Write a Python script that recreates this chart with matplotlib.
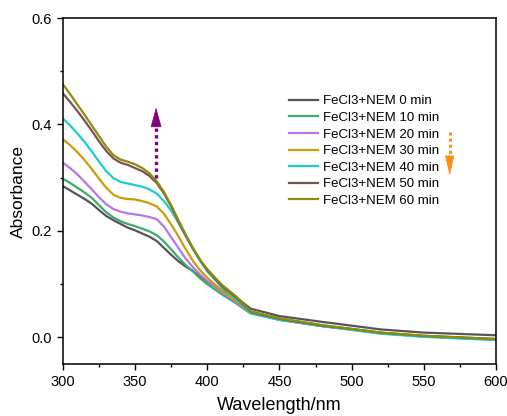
import matplotlib
matplotlib.use("Agg")
import matplotlib.pyplot as plt
from matplotlib.ticker import MultipleLocator

plt.rcParams['font.family'] = ['Liberation Sans', 'DejaVu Sans']

wavelength = [300, 305, 310, 315, 320, 325, 330, 335, 340, 345, 350, 355, 360, 365,
              370, 375, 380, 385, 390, 395, 400,
              410, 420, 430, 450, 480, 500, 520, 550, 600]

abs_0 = [0.284, 0.276, 0.268, 0.260, 0.251, 0.239, 0.228, 0.220, 0.213, 0.206, 0.201,
         0.195, 0.189, 0.181, 0.168, 0.155, 0.143, 0.133, 0.125, 0.114, 0.104,
         0.089, 0.075, 0.054, 0.040, 0.029, 0.022, 0.015, 0.009, 0.004]
abs_10 = [0.298, 0.290, 0.281, 0.272, 0.262, 0.248, 0.235, 0.225, 0.218, 0.213, 0.209,
          0.204, 0.199, 0.192, 0.180, 0.165, 0.150, 0.136, 0.124, 0.111, 0.100,
          0.081, 0.064, 0.045, 0.033, 0.021, 0.015, 0.008, 0.002, -0.004]
abs_20 = [0.328, 0.318, 0.306, 0.292, 0.278, 0.263, 0.250, 0.241, 0.236, 0.233, 0.231,
          0.229, 0.226, 0.222, 0.208, 0.188, 0.168, 0.148, 0.132, 0.118, 0.106,
          0.085, 0.067, 0.046, 0.033, 0.021, 0.015, 0.008, 0.002, -0.004]
abs_30 = [0.372, 0.361, 0.348, 0.333, 0.316, 0.298, 0.281, 0.268, 0.262, 0.260, 0.259,
          0.256, 0.252, 0.246, 0.232, 0.212, 0.190, 0.166, 0.144, 0.126, 0.112,
          0.088, 0.069, 0.047, 0.034, 0.022, 0.015, 0.008, 0.002, -0.004]
abs_40 = [0.411, 0.398, 0.383, 0.367, 0.349, 0.330, 0.312, 0.299, 0.292, 0.289, 0.286,
          0.283, 0.278, 0.270, 0.256, 0.238, 0.215, 0.190, 0.166, 0.144, 0.124,
          0.094, 0.072, 0.046, 0.033, 0.021, 0.014, 0.007, 0.001, -0.005]
abs_50 = [0.458, 0.442, 0.425, 0.407, 0.388, 0.368, 0.350, 0.336, 0.328, 0.324, 0.318,
          0.312, 0.303, 0.290, 0.270, 0.246, 0.218, 0.192, 0.167, 0.145, 0.126,
          0.097, 0.075, 0.048, 0.035, 0.022, 0.016, 0.009, 0.003, -0.003]
abs_60 = [0.475, 0.457, 0.437, 0.418, 0.398, 0.378, 0.358, 0.342, 0.334, 0.330, 0.325,
          0.318, 0.308, 0.293, 0.273, 0.248, 0.220, 0.193, 0.168, 0.146, 0.128,
          0.099, 0.077, 0.049, 0.036, 0.023, 0.016, 0.009, 0.003, -0.003]

series = [abs_0, abs_10, abs_20, abs_30, abs_40, abs_50, abs_60]
labels = ["FeCl3+NEM 0 min", "FeCl3+NEM 10 min", "FeCl3+NEM 20 min",
          "FeCl3+NEM 30 min", "FeCl3+NEM 40 min", "FeCl3+NEM 50 min",
          "FeCl3+NEM 60 min"]
colors = ["#555555", "#3daa6e", "#b676e6", "#cc9b06", "#1ccccc", "#7a5252", "#8c8c0a"]

# annotation arrows: (x, tail, head base, tip)
up_arrow = (364.5, 0.300, 0.398, 0.432)
down_arrow = (568.0, 0.386, 0.339, 0.304)

fig = plt.figure(figsize=(5.07, 4.16), dpi=100)
ax = fig.add_axes([0.1243, 0.125, 0.978 - 0.1243, 0.9567 - 0.125])

for y, lab, c in zip(series, labels, colors):
    ax.plot(wavelength, y, color=c, lw=1.6, label=lab)

ax.set_xlim(300, 600)
ax.set_ylim(-0.05, 0.6)
ax.xaxis.set_major_locator(MultipleLocator(50))
ax.xaxis.set_minor_locator(MultipleLocator(25))
ax.yaxis.set_major_locator(MultipleLocator(0.2))
ax.yaxis.set_minor_locator(MultipleLocator(0.1))
ax.tick_params(which='both', direction='out', top=False, right=False,
               labelsize=10.5, width=1.0)
ax.tick_params(which='major', length=4.5)
ax.tick_params(which='minor', length=2.5)
for s in ax.spines.values():
    s.set_linewidth(1.1)

ax.set_xlabel("Wavelength/nm", fontsize=13, labelpad=6)
ax.set_ylabel("Absorbance", fontsize=12.5, labelpad=4)

leg = ax.legend(loc='upper left', bbox_to_anchor=(0.51, 0.792), frameon=False,
                fontsize=9.5, handlelength=2.2, handletextpad=0.4,
                labelspacing=0.33, borderaxespad=0)

for (x, tail, base, tip), col, hw, lw in [(up_arrow, "#800080", 0.36, 2.4),
                                          (down_arrow, "#ff8c1a", 0.30, 2.2)]:
    ax.plot([x, x], [tail, base], color=col, lw=lw, linestyle=(0, (1, 1)),
            solid_capstyle='butt', dash_capstyle='butt')
    ax.annotate("", xy=(x, tip), xytext=(x, base),
                arrowprops=dict(arrowstyle=f"-|>,head_length=1.3,head_width={hw}",
                                color=col, lw=0.5, shrinkA=0, shrinkB=0))

fig.savefig("out.png", dpi=100)
